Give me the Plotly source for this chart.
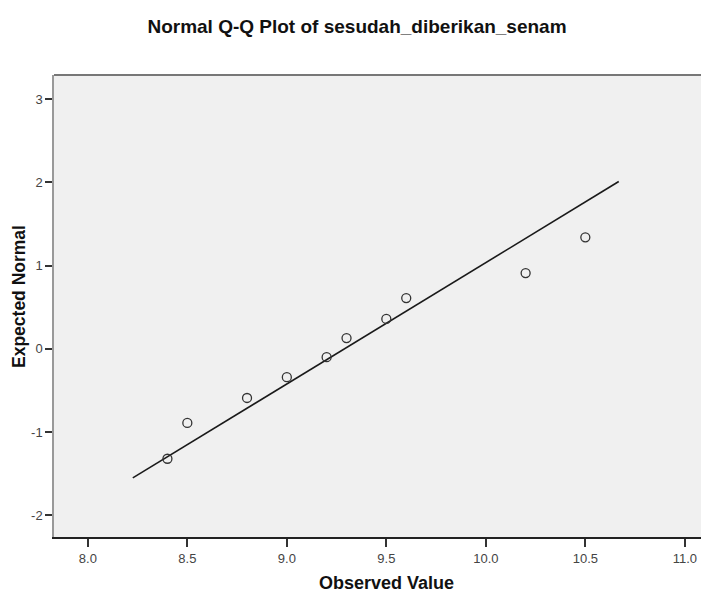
import plotly.graph_objects as go

observed = [8.4, 8.5, 8.8, 9.0, 9.2, 9.3, 9.5, 9.6, 10.2, 10.5]
expected = [-1.32, -0.89, -0.59, -0.34, -0.10, 0.13, 0.36, 0.61, 0.91, 1.34]
line_x = [8.226, 10.668]
line_y = [-1.55, 2.01]
x_ticks = [8.0, 8.5, 9.0, 9.5, 10.0, 10.5, 11.0]
x_tick_text = ["8.0", "8.5", "9.0", "9.5", "10.0", "10.5", "11.0"]
y_ticks = [-2, -1, 0, 1, 2, 3]
y_tick_text = ["-2", "-1", "0", "1", "2", "3"]

# page body has an 8px default margin; figure coordinates are offset by it
OFF = 8
W, H = 709, 601
L, T, B = 54 - OFF, 75 - OFF, 537 - OFF
fig = go.Figure()
fig.add_trace(go.Scatter(x=line_x, y=line_y, mode="lines",
                         line=dict(color="#1a1a1a", width=1.6), showlegend=False))
fig.add_trace(go.Scatter(x=observed, y=expected, mode="markers",
                         marker=dict(symbol="circle-open", size=9,
                                     color="#333333", line=dict(width=1.3)),
                         showlegend=False))

fig.update_layout(
    width=W, height=H,
    margin=dict(l=L, r=0, t=T, b=H - B, autoexpand=False),
    paper_bgcolor="white", plot_bgcolor="#f0f0f0",
    title=dict(text="<b>Normal Q-Q Plot of sesudah_diberikan_senam</b>",
               x=(357 - OFF) / W, xanchor="center", y=1 - (26 - OFF) / H, yanchor="middle",
               font=dict(family="Liberation Sans, Arial", size=19, color="#111111")),
    font=dict(family="Liberation Sans, Arial", color="#333333"),
)
fig.update_xaxes(range=[7.83, 7.83 + (W - L) / 199.0], tickvals=x_ticks, ticktext=x_tick_text,
                 ticks="outside", ticklen=8, tickwidth=2, tickcolor="#333333",
                 tickfont=dict(size=13, color="#444444"), automargin=False,
                 showgrid=False, zeroline=False, showline=True,
                 linecolor="#222222", linewidth=2)
fig.update_yaxes(range=[-2.26, 3.29], tickvals=y_ticks, ticktext=y_tick_text,
                 ticks="outside", ticklen=7, tickwidth=2, tickcolor="#333333",
                 tickfont=dict(size=13, color="#444444"), automargin=False,
                 showgrid=False, zeroline=False, showline=True,
                 linecolor="#999999", linewidth=1.5)
fig.add_shape(type="line", xref="paper", yref="paper", x0=0, x1=1, y0=1, y1=1,
              line=dict(color="#777777", width=2))
fig.add_annotation(text="<b>Observed Value</b>", xref="paper", yref="paper",
                   x=(386 - OFF - L) / (W - L), y=-(583 - OFF - B) / (B - T),
                   xanchor="center", yanchor="middle", showarrow=False,
                   font=dict(family="Liberation Sans, Arial", size=18, color="#111111"))
fig.add_annotation(text="<b>Expected Normal</b>", xref="paper", yref="paper",
                   x=-(L - (19 - OFF)) / (W - L), y=(B - (297 - OFF)) / (B - T),
                   xanchor="center", yanchor="middle", showarrow=False, textangle=-90,
                   font=dict(family="Liberation Sans, Arial", size=17.5, color="#111111"))

fig.write_html("out.html")
